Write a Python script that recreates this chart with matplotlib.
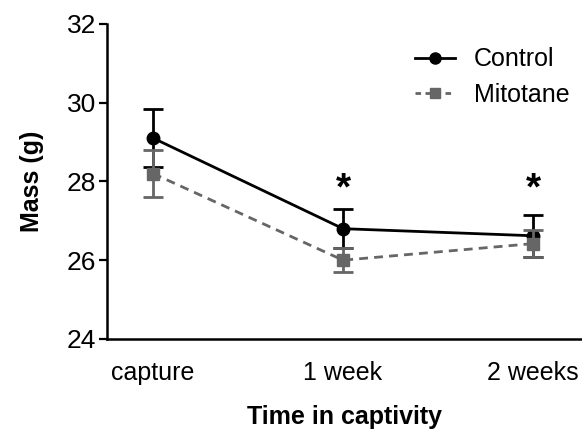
import matplotlib

matplotlib.use("Agg")

import matplotlib.pyplot as plt
import numpy as np
from matplotlib.lines import Line2D

plt.rcParams["font.family"] = "sans-serif"
plt.rcParams["font.sans-serif"] = ["Liberation Sans", "DejaVu Sans"]

# data
timepoints = ["capture", "1 week", "2 weeks"]
control_mean = [29.1, 26.8, 26.62]
control_err = [0.73, 0.5, 0.53]
mitotane_mean = [28.2, 26.0, 26.42]
mitotane_err = [0.6, 0.3, 0.34]
signif = [False, True, True]

CONTROL = "#000000"
MITOTANE = "#666666"

fig = plt.figure(figsize=(5.82, 4.34), dpi=100)
ax = fig.add_axes([0.184, 0.219, 0.816, 0.726])

x = np.arange(len(timepoints))
ax.errorbar(x, control_mean, yerr=control_err, fmt="-o", color=CONTROL,
            lw=2.0, ms=9, elinewidth=2.0, capsize=7, capthick=2.0, zorder=2)
ax.errorbar(x, mitotane_mean, yerr=mitotane_err, fmt="--s", color=MITOTANE,
            lw=2.0, ms=8.5, elinewidth=2.0, capsize=7, capthick=2.0,
            dashes=(3.2, 2.2), zorder=3)

for xi, s in zip(x, signif):
    if s:
        ax.text(xi, 27.8, "*", ha="center", va="center", fontsize=28,
                fontweight="bold")

ax.set_xlim(-0.242, 2.258)
ax.set_ylim(24, 32)
ax.set_yticks([24, 26, 28, 30, 32])
ax.set_xticks(x)
ax.set_xticklabels(timepoints)
ax.tick_params(axis="y", length=6, width=1.6, labelsize=19, pad=2)
ax.tick_params(axis="x", length=0, labelsize=18, pad=16)

for side in ("top", "right"):
    ax.spines[side].set_visible(False)
for side in ("left", "bottom"):
    ax.spines[side].set_linewidth(1.8)

ax.set_ylabel("Mass (g)", fontsize=18, fontweight="bold", labelpad=16)
ax.set_xlabel("Time in captivity", fontsize=18, fontweight="bold", labelpad=14)

handles = [
    Line2D([0], [0], color=CONTROL, lw=2.0, marker="o", ms=8, label="Control"),
    Line2D([0], [0], color=MITOTANE, lw=2.0, ls="--", dashes=(2.0, 1.6),
           marker="s", ms=7.5, label="Mitotane"),
]
ax.legend(handles=handles, loc="upper right", bbox_to_anchor=(1.0, 0.965),
          frameon=False, fontsize=18, handlelength=1.6, handletextpad=0.75,
          labelspacing=0.45, borderaxespad=0.1)

fig.savefig("out.png", dpi=100)
